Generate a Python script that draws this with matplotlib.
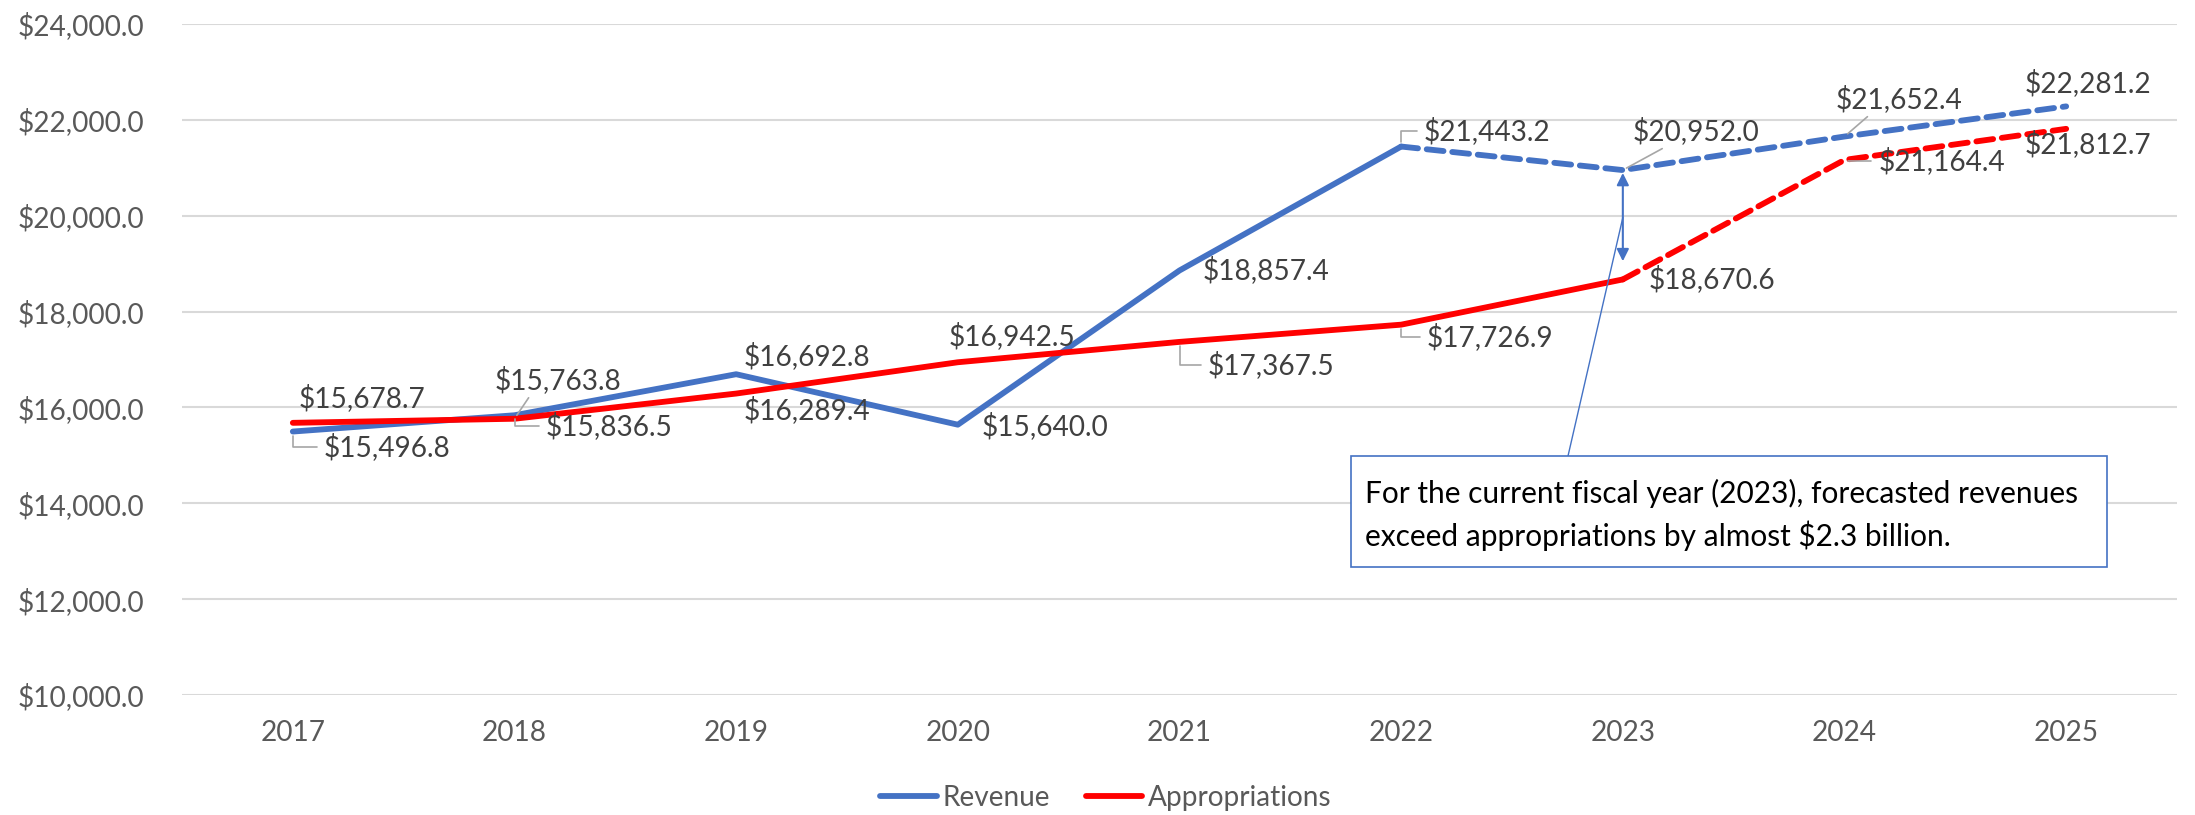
import numpy as np
import matplotlib
matplotlib.use("Agg")
import matplotlib.pyplot as plt
from matplotlib.patches import Rectangle

years = ["2017", "2018", "2019", "2020", "2021", "2022", "2023", "2024", "2025"]
revenue = [15496.8, 15836.5, 16692.8, 15640.0, 18857.4, 21443.2, 20952.0, 21652.4, 22281.2]
appropriations = [15678.7, 15763.8, 16289.4, 16942.5, 17367.5, 17726.9, 18670.6, 21164.4, 21812.7]
rev_actual_end = 5   # last actual year index (2022)
app_actual_end = 6   # last actual year index (2023)
note = ["For the current fiscal year (2023), forecasted revenues",
        "exceed appropriations by almost $2.3 billion."]

plt.rcParams['font.family'] = ['Lato', 'DejaVu Sans']
BLUE = '#4472C4'
RED = '#FF0000'
TXT = '#404040'
FS = 20.2

# label offsets (points) and leader style per point
rev_off = [(68, -11), (68, -8), (51, 13), (63, -1), (62, 0), (62, 11), (53, 28), (39, 27), (16, 17)]
rev_lead = ['br', 'br', None, None, None, 'br', 'st', 'st', None]
app_off = [(50, 18), (31, 28), (51, -12), (39, 19), (66, -17), (64, -9), (64, 0), (70, -1), (16, -11)]
app_lead = [None, 'st', None, None, 'br', 'br', None, 'br', None]

fig = plt.figure(figsize=(21.95, 8.15), dpi=100)
ax = fig.add_axes([182/2195, 1-695/815, 1995/2195, 671/815])

x = np.arange(len(years))
lw = 4.2
ax.plot(x[:rev_actual_end+1], revenue[:rev_actual_end+1], color=BLUE, lw=lw, label='Revenue',
        solid_joinstyle='round', solid_capstyle='round', zorder=3)
ax.plot(x[rev_actual_end:], revenue[rev_actual_end:], color=BLUE, lw=lw, dashes=(2.9, 1.5),
        dash_capstyle='round', zorder=3)
ax.plot(x[:app_actual_end+1], appropriations[:app_actual_end+1], color=RED, lw=lw, label='Appropriations',
        solid_joinstyle='round', solid_capstyle='round', zorder=3)
ax.plot(x[app_actual_end:], appropriations[app_actual_end:], color=RED, lw=lw, dashes=(2.9, 1.5),
        dash_capstyle='round', zorder=3)


def add_labels(vals, offs, leads):
    for i, v in enumerate(vals):
        kw = {}
        if leads[i] == 'br':
            kw['arrowprops'] = dict(arrowstyle='-', color='#A6A6A6', lw=1.2, shrinkA=3, shrinkB=3,
                                    relpos=(0, 0.5), connectionstyle='angle,angleA=0,angleB=90,rad=0')
        elif leads[i] == 'st':
            kw['arrowprops'] = dict(arrowstyle='-', color='#A6A6A6', lw=1.2, shrinkA=1, shrinkB=3,
                                    relpos=(0.3, 0.05))
        ax.annotate(f"${v:,.1f}", xy=(x[i], v), xytext=offs[i], textcoords='offset points',
                    ha='center', va='center', fontsize=FS, color=TXT, zorder=4, **kw)


add_labels(revenue, rev_off, rev_lead)
add_labels(appropriations, app_off, app_lead)

# double arrow showing the 2023 gap
i23 = years.index("2023")
ax.annotate('', xy=(x[i23], revenue[i23] - 60), xytext=(x[i23], appropriations[i23] + 380),
            arrowprops=dict(arrowstyle='<|-|>', color=BLUE, lw=1.5, mutation_scale=18,
                            shrinkA=0, shrinkB=0))

# callout box
bx0, bx1, by0, by1 = (1351-182)/1995, (2107-182)/1995, (695-567)/671, (695-456)/671
ax.add_patch(Rectangle((bx0, by0), bx1-bx0, by1-by0, transform=ax.transAxes, fill=True,
                       facecolor='white', edgecolor=BLUE, lw=1.2, zorder=5, clip_on=False))
ax.text((1365-182)/1995, (695-493)/671, note[0], transform=ax.transAxes, fontsize=21.5,
        color='black', va='center', ha='left', zorder=6)
ax.text((1365-182)/1995, (695-536)/671, note[1], transform=ax.transAxes, fontsize=21.5,
        color='black', va='center', ha='left', zorder=6)
ax.annotate('', xy=(x[i23], (revenue[i23] + appropriations[i23]) / 2 + 150),
            xytext=((1568-182)/1995, by1), textcoords='axes fraction',
            arrowprops=dict(arrowstyle='-', color=BLUE, lw=1.0, shrinkA=0, shrinkB=0))

ax.set_xlim(-0.5, len(years) - 0.5)
ax.set_ylim(10000, 24000)
ax.set_yticks(np.arange(10000, 24001, 2000))
ax.yaxis.set_major_formatter(matplotlib.ticker.FuncFormatter(lambda v, p: f"${v:,.1f}"))
ax.set_xticks(x)
ax.set_xticklabels(years)
ax.tick_params(axis='both', length=0, labelsize=FS, labelcolor='#595959')
ax.tick_params(axis='y', pad=27)
ax.tick_params(axis='x', pad=18)
ax.grid(axis='y', color='#D9D9D9', lw=1.5)
ax.set_axisbelow(True)
for s in ax.spines.values():
    s.set_visible(False)

fig.legend(loc='center', bbox_to_anchor=(1106/2195, 1-798/815), ncol=2, frameon=False,
           fontsize=FS, labelcolor='#595959', handlelength=2.0, handletextpad=0.2, columnspacing=1.3)

fig.savefig('out.png', dpi=100)
